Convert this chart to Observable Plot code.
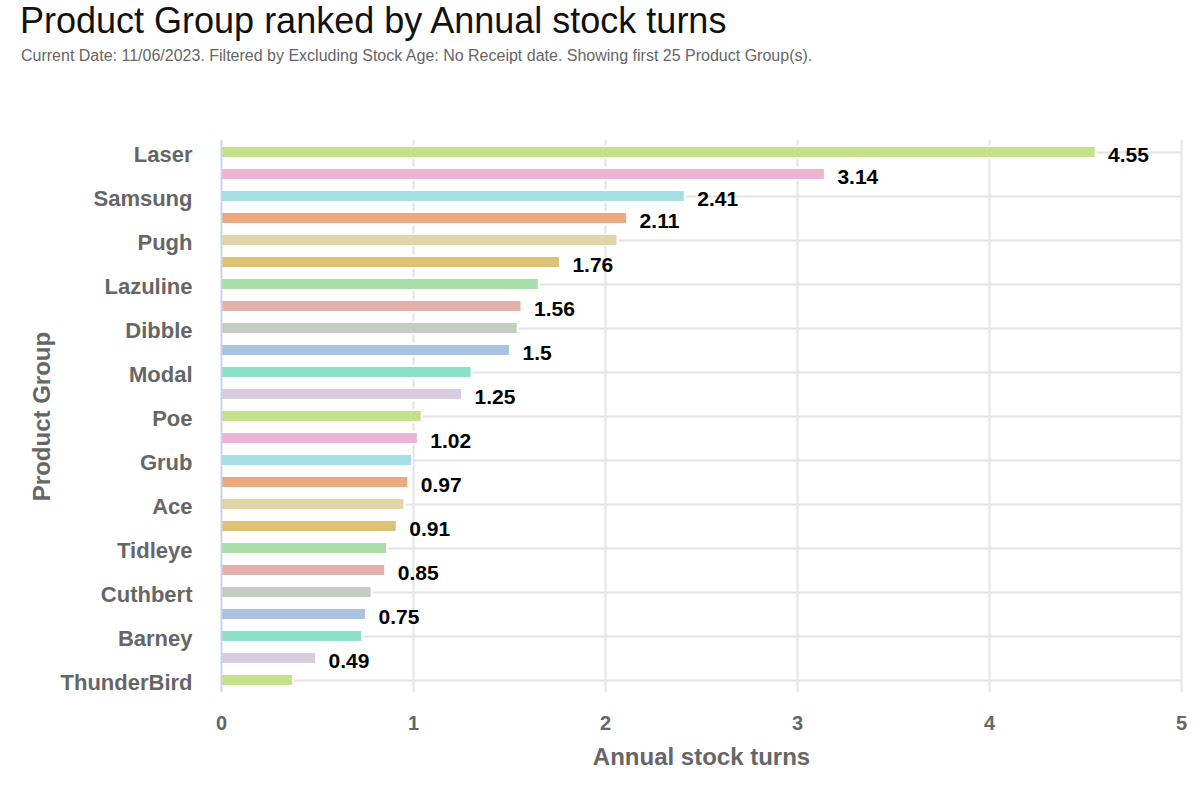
<!DOCTYPE html>
<html>
<head>
<meta charset="utf-8">
<script src="https://cdn.jsdelivr.net/npm/d3@7"></script>
<script src="https://cdn.jsdelivr.net/npm/@observablehq/plot@0.6"></script>
<style>
  html, body { margin: 0; padding: 0; background: #fff; }
  #page { position: relative; width: 1200px; height: 800px; font-family: "Liberation Sans", Arial, sans-serif; }
  #title { position: absolute; left: 20px; top: 0px; font-size: 36px; line-height: 41px; color: #111; white-space: nowrap; }
  #subtitle { position: absolute; left: 21px; top: 48px; font-size: 16px; line-height: 16px; color: #666; white-space: nowrap; }
  #chart { position: absolute; left: 0; top: 70px; }
</style>
</head>
<body>
<div id="page">
  <div id="title">Product Group ranked by Annual stock turns</div>
  <div id="subtitle">Current Date: 11/06/2023. Filtered by Excluding Stock Age: No Receipt date. Showing first 25 Product Group(s).</div>
  <div id="chart"></div>
</div>
<script>
// Product groups in rank order (only every other name is printed on the axis)
const groups = [
  "Laser", "Product Group 2", "Samsung", "Product Group 4", "Pugh",
  "Product Group 6", "Lazuline", "Product Group 8", "Dibble", "Product Group 10",
  "Modal", "Product Group 12", "Poe", "Product Group 14", "Grub",
  "Product Group 16", "Ace", "Product Group 18", "Tidleye", "Product Group 20",
  "Cuthbert", "Product Group 22", "Barney", "Product Group 24", "ThunderBird"
];

// Annual stock turns per product group
const turns = [
  4.55, 3.14, 2.41, 2.11, 2.06,
  1.76, 1.65, 1.56, 1.54, 1.5,
  1.30, 1.25, 1.04, 1.02, 0.99,
  0.97, 0.95, 0.91, 0.86, 0.85,
  0.78, 0.75, 0.73, 0.49, 0.37
];

// Which bars carry a value label (the rest are suppressed to avoid overlap)
const valueShown = [
  true, true, true, true, false,
  true, false, true, false, true,
  false, true, false, true, false,
  true, false, true, false, true,
  false, true, false, true, false
];

// Category names printed on the y axis
const axisGroups = groups.filter((g, i) => i % 2 === 0);

// x axis ticks
const xTicks = [0, 1, 2, 3, 4, 5];

// Pastel palette, cycled through the bars
const palette = [
  "#c5e08a", "#ecb3d3", "#a4dfe4", "#eaa97f", "#e0d6a8", "#dcc272",
  "#a9dda9", "#e4b0ab", "#c3cdc0", "#a8c2e0", "#8ee1c8", "#d8cbe0"
];

const rows = groups.map((group, i) => ({
  group,
  turns: turns[i],
  color: palette[i % palette.length],
  shown: valueShown[i]
}));

const chart = Plot.plot({
  width: 1200,
  height: 730,
  marginTop: 70,
  marginBottom: 108,
  marginLeft: 221,
  marginRight: 19,
  style: {
    fontFamily: "'Liberation Sans', Arial, sans-serif",
    fontWeight: "bold",
    color: "#666",
    background: "#fff"
  },
  x: { domain: [0, 5] },
  y: { domain: groups, paddingInner: 0.547, paddingOuter: 0.2735, align: 0.5 },
  color: { type: "identity" },
  marks: [
    // vertical grid
    Plot.ruleX(xTicks.filter(d => d > 0), { stroke: "#e3e3e3", strokeWidth: 2 }),
    // horizontal grid at the named groups
    Plot.ruleY(axisGroups, { y: d => d, stroke: "#e3e3e3", strokeWidth: 2 }),
    // white halo behind each bar
    Plot.barX(rows, {
      x: "turns", y: "group", fill: "white",
      insetTop: -2, insetBottom: -2, insetRight: -2
    }),
    // bars
    Plot.barX(rows, { x: "turns", y: "group", fill: "color" }),
    // value axis baseline
    Plot.ruleX([0], { stroke: "#c9d4e7", strokeWidth: 2 }),
    // value labels
    Plot.text(rows.filter(d => d.shown), {
      x: "turns", y: "group", text: d => String(d.turns),
      textAnchor: "start", dx: 13, dy: 3,
      fontSize: 21, fontWeight: "bold", fill: "#000"
    }),
    // axes
    Plot.axisY(axisGroups, {
      tickSize: 0, tickPadding: 29, fontSize: 22, dy: 2, label: null
    }),
    Plot.axisX(xTicks, {
      tickSize: 0, tickPadding: 23, fontSize: 20, tickFormat: d => String(d), label: null
    }),
    // axis titles
    Plot.text(["Annual stock turns"], {
      frameAnchor: "bottom", lineAnchor: "middle", textAnchor: "middle",
      dy: 65, fontSize: 24, fill: "#666"
    }),
    Plot.text(["Product Group"], {
      frameAnchor: "left", lineAnchor: "middle", textAnchor: "middle",
      rotate: -90, dx: -179, fontSize: 24, fill: "#666"
    })
  ]
});

document.getElementById("chart").append(chart);
</script>
</body>
</html>
